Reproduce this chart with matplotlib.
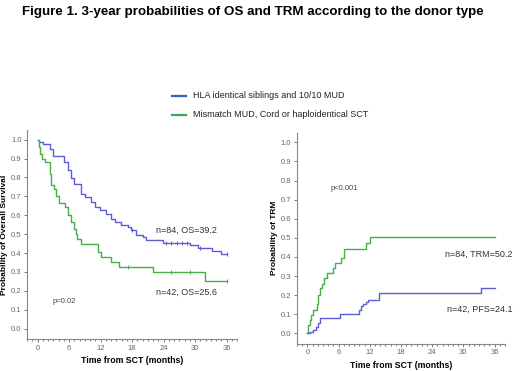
import matplotlib.pyplot as plt
import numpy as np

BLUE, GREEN = "#5c5cd6", "#45b04a"
LEG_BLUE, LEG_GREEN = "#2f62c4", "#2fae4f"

plt.rcParams.update({"font.family": "Liberation Sans"})

# OS curves (months, probability)
os_hla_t = [0, 0.3, 1.0, 2.3, 2.9, 5.1, 5.8, 6.4, 7.0, 8.3, 9.0, 10.2, 10.9, 11.8, 13.1, 14.0,
            14.7, 15.9, 17.2, 17.8, 18.8, 20.0, 20.7, 23.9, 29.0, 30.5, 33.3, 35.0, 36]
os_hla_p = [1.0, 0.99, 0.975, 0.95, 0.916, 0.88, 0.837, 0.798, 0.763, 0.714, 0.696, 0.67, 0.644,
            0.626, 0.605, 0.582, 0.565, 0.547, 0.538, 0.521, 0.498, 0.486, 0.468, 0.456, 0.442,
            0.428, 0.41, 0.393, 0.393]
os_hla_cens = [18.0, 24.5, 25.5, 26.5, 27.5, 28.5, 31.0, 36.0]

os_mm_t = [0, 0.25, 0.5, 0.83, 1.33, 2.3, 2.6, 3.1, 3.55, 4.06, 5.14, 5.8, 6.4, 6.86, 7.24, 7.5,
           8.3, 11.6, 12.1, 14.0, 15.6, 22.0, 31.8, 36]
os_mm_p = [1.0, 0.96, 0.925, 0.898, 0.88, 0.82, 0.762, 0.74, 0.70, 0.665, 0.644, 0.60, 0.565,
           0.53, 0.503, 0.477, 0.45, 0.407, 0.38, 0.354, 0.328, 0.298, 0.254, 0.254]
os_mm_cens = [17.2, 25.5, 29.0, 36.0]

# TRM curves
trm_mm_t = [0, 0.19, 0.5, 0.8, 1.1, 1.9, 2.1, 2.35, 2.85, 3.2, 3.8, 4.9, 5.4, 6.4, 7.0, 11.3, 12.0, 36]
trm_mm_p = [0, 0.042, 0.068, 0.095, 0.121, 0.156, 0.2, 0.238, 0.261, 0.288, 0.314, 0.34, 0.367,
            0.393, 0.442, 0.472, 0.503, 0.503]

trm_hla_t = [0, 0.6, 1.1, 1.7, 2.0, 2.53, 6.3, 10.0, 10.3, 10.7, 11.2, 11.7, 13.8, 33.4, 36]
trm_hla_p = [0, 0.007, 0.02, 0.034, 0.054, 0.083, 0.104, 0.125, 0.142, 0.156, 0.167, 0.177,
             0.212, 0.24, 0.24]

legend_labels = ["HLA identical siblings and 10/10 MUD", "Mismatch MUD, Cord or haploidentical SCT"]


def value_at(ts, ps, t):
    return ps[np.searchsorted(ts, t, side="right") - 1]


def style_axis(ax, ylabel):
    for s in ["top", "right"]:
        ax.spines[s].set_visible(False)
    for s in ["left", "bottom"]:
        ax.spines[s].set_color("#888888")
        ax.spines[s].set_linewidth(0.8)
    ax.set_xlim(-2, 38)
    ax.set_ylim(-0.055, 1.05)
    ax.set_xticks(range(0, 37, 6))
    ax.set_xticks(range(-2, 39), minor=True)
    ticks = np.arange(0, 1.01, 0.1)
    ax.set_yticks(ticks)
    ax.set_yticklabels([f"{v:.1f}" for v in ticks])
    ax.tick_params(labelsize=5.5, colors="#666666", length=2.5, width=0.6, pad=1.5)
    ax.tick_params(which="minor", length=1.5, width=0.6, colors="#666666")
    ax.set_xlabel("Time from SCT (months)", fontsize=6.3, fontweight="bold", labelpad=3)
    ax.set_ylabel(ylabel, fontsize=6, fontweight="bold", labelpad=2)


fig = plt.figure(figsize=(5.2, 3.71), dpi=100)
fig.text(0.042, 0.985, "Figure 1. 3-year probabilities of OS and TRM according to the donor type",
         fontsize=9.6, fontweight="bold", va="top")

ax1 = fig.add_axes([0.052, 0.086, 0.404, 0.563])
ax1.step(os_hla_t, os_hla_p, where="post", color=BLUE, lw=1.0)
ax1.step(os_mm_t, os_mm_p, where="post", color=GREEN, lw=1.0)
ax1.plot(os_hla_cens, [value_at(os_hla_t, os_hla_p, c) for c in os_hla_cens],
         "|", color=BLUE, ms=3, mew=0.7)
ax1.plot(os_mm_cens, [value_at(os_mm_t, os_mm_p, c) for c in os_mm_cens],
         "|", color=GREEN, ms=3, mew=0.7)
style_axis(ax1, "Probability of Overall Survival")
ax1.text(22.5, 0.52, "n=84, OS=39.2", fontsize=6.5, color="#333333", ha="left", va="center")
ax1.text(22.5, 0.19, "n=42, OS=25.6", fontsize=6.5, color="#333333", ha="left", va="center")
ax1.text(2.8, 0.145, "p=0.02", fontsize=5.5, color="#444444", ha="left", va="center")

ax2 = fig.add_axes([0.571, 0.073, 0.40, 0.569])
ax2.step(trm_mm_t, trm_mm_p, where="post", color=GREEN, lw=1.0)
ax2.step(trm_hla_t, trm_hla_p, where="post", color=BLUE, lw=1.0)
style_axis(ax2, "Probability of TRM")
ax2.text(26.5, 0.415, "n=84, TRM=50.2", fontsize=6.5, color="#333333", ha="left", va="center")
ax2.text(26.9, 0.125, "n=42, PFS=24.1", fontsize=6.5, color="#333333", ha="left", va="center")
ax2.text(4.5, 0.76, "p<0.001", fontsize=5.5, color="#444444", ha="left", va="center")

# legend drawn in figure coordinates
for i, (lab, col) in enumerate(zip(legend_labels, [LEG_BLUE, LEG_GREEN])):
    yy = 1 - (96 + 18.5 * i) / 371
    fig.add_artist(plt.Line2D([172 / 520, 186 / 520], [yy, yy], color=col, lw=1.6))
    fig.text(193 / 520, yy, lab, fontsize=6.5, color="#222222", va="center")

plt.savefig("out.png", dpi=100, facecolor="white")
